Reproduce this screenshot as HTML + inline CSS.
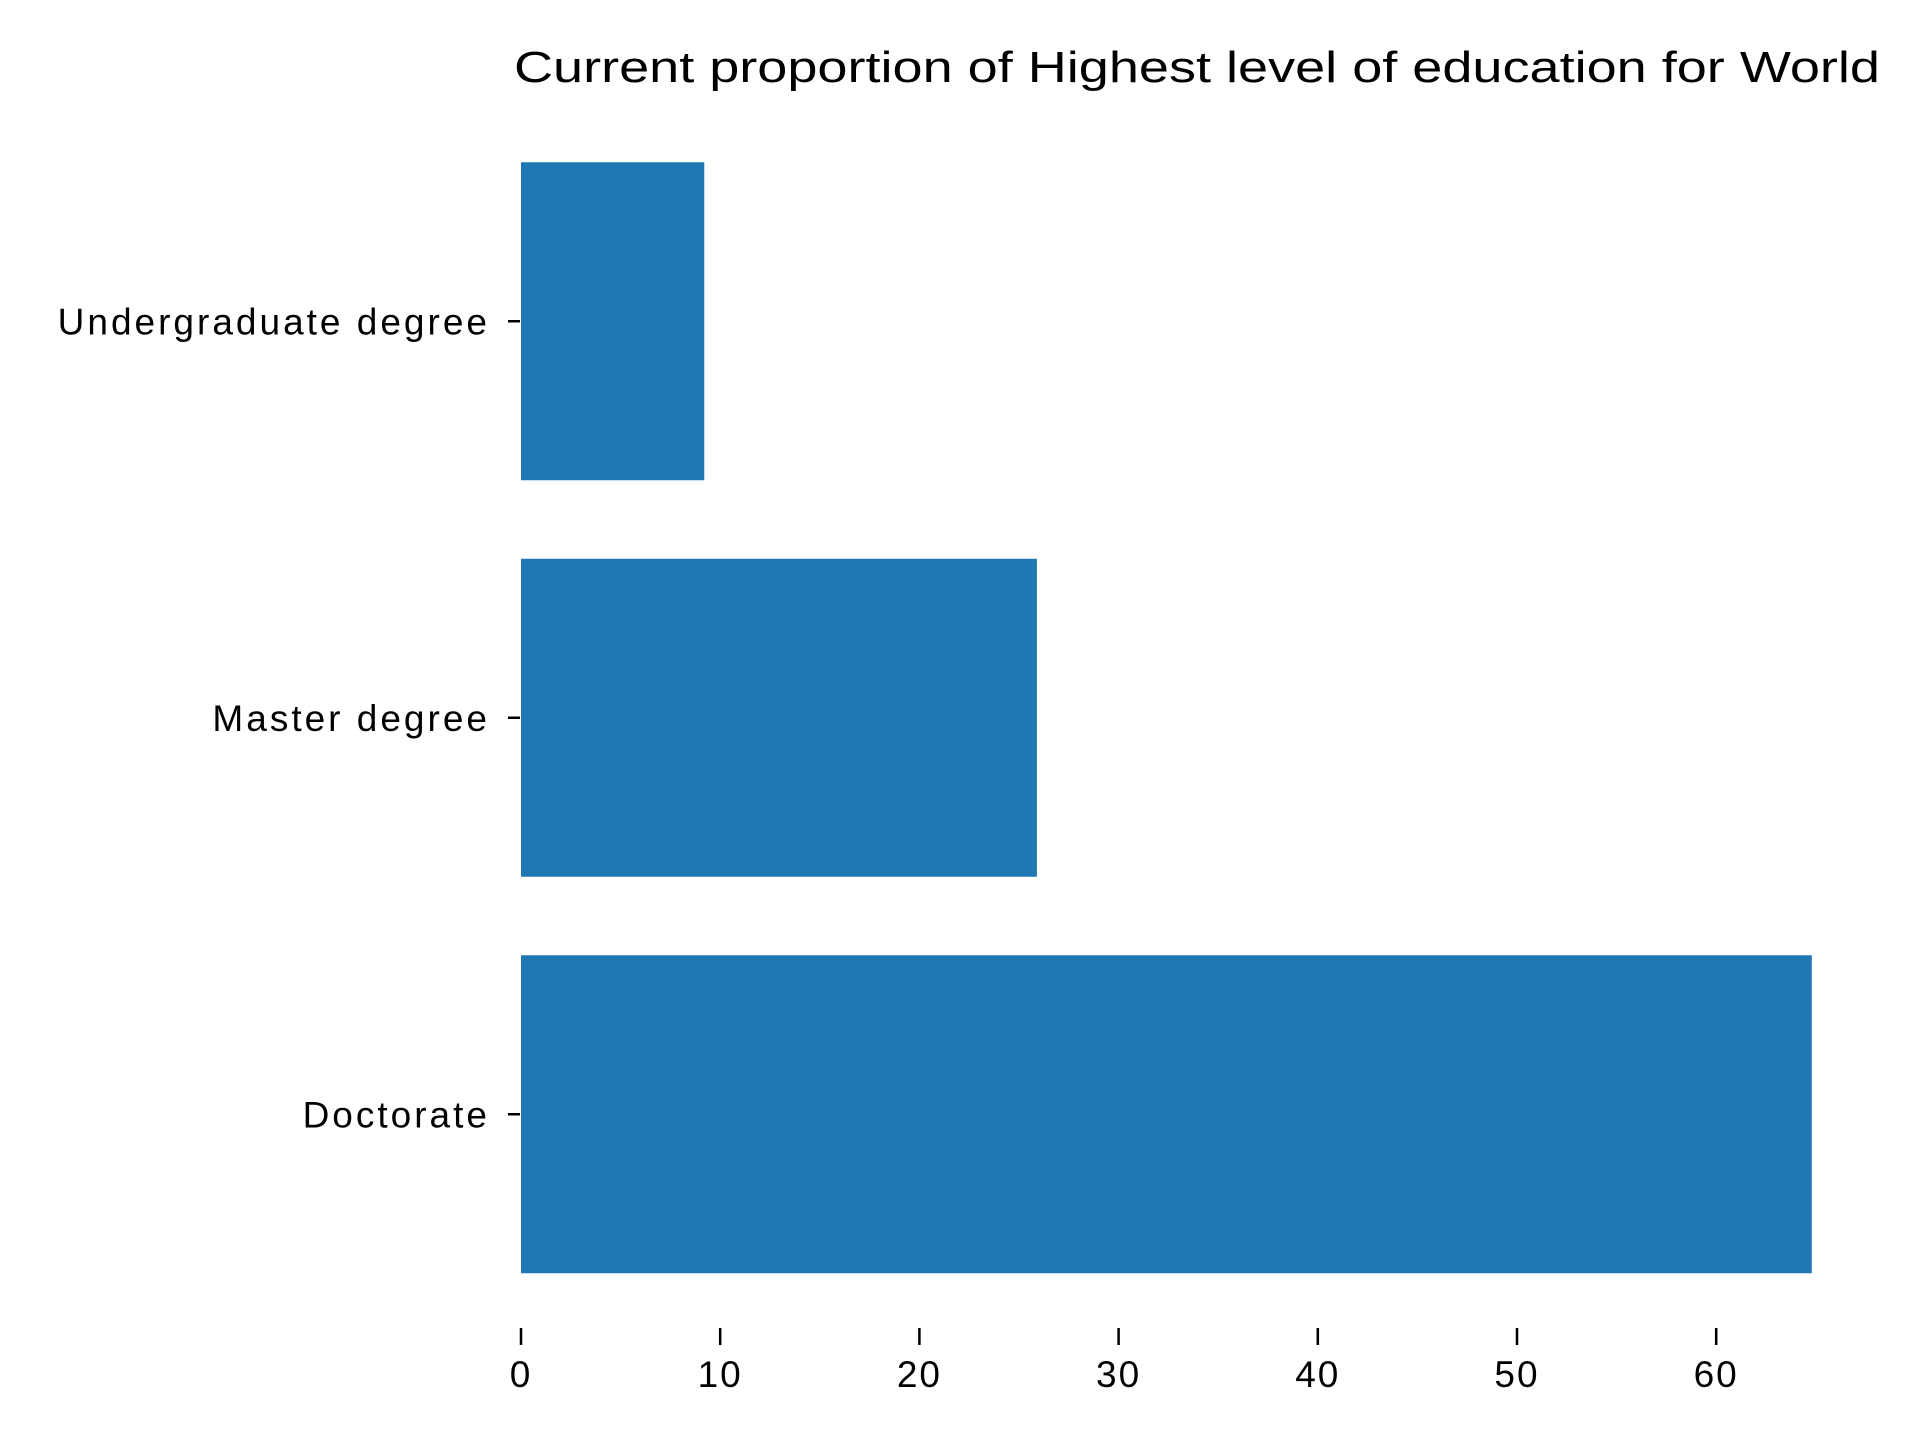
<!DOCTYPE html>
<html><head><meta charset="utf-8"><style>html,body{margin:0;padding:0;background:#fff}svg{display:block}text{font-family:"Liberation Sans",sans-serif;fill:#000}</style></head>
<body>
<svg id="chart" width="1920" height="1440" viewBox="0 0 1920 1440" xmlns="http://www.w3.org/2000/svg">
<text x="514" y="82" font-size="44" textLength="1366" lengthAdjust="spacingAndGlyphs">Current proportion of Highest level of education for World</text>
<g id="bars"></g><g id="yaxis"></g><g id="xaxis"></g>
</svg>
<script>
const categories = ["Undergraduate degree", "Master degree", "Doctorate"];
const values = [9.2, 25.9, 64.8];
const xTicks = [0, 10, 20, 30, 40, 50, 60];
const NS = "http://www.w3.org/2000/svg";
const x0 = 521, pxPerUnit = 19.92;
const xScale = v => x0 + v * pxPerUnit;
const bandTop = 123, bandStep = 396.5, barH = 318;
const yCenter = i => bandTop + bandStep * i + bandStep / 2;
const bars = document.getElementById('bars'), ya = document.getElementById('yaxis'), xa = document.getElementById('xaxis');
function mk(tag, attrs, parent) { const e = document.createElementNS(NS, tag); for (const k in attrs) e.setAttribute(k, attrs[k]); parent.appendChild(e); return e; }
categories.forEach((c, i) => {
  const cy = yCenter(i);
  const r = mk('rect', {x: xScale(0), y: cy - barH / 2, width: xScale(values[i]) - xScale(0), height: barH, fill: '#1f77b4'}, bars);
  
  
  const t = mk('line', {x1: 508, x2: 520, y1: cy, y2: cy, stroke: '#000', 'stroke-width': 2.5}, ya);
  
  
  const l = mk('text', {x: 490, y: cy + 13, 'font-size': 37, 'letter-spacing': 3, 'text-anchor': 'end'}, ya);
  l.textContent = c;
  
  
});
xTicks.forEach(v => {
  const x = xScale(v);
  const t = mk('line', {x1: x, x2: x, y1: 1328, y2: 1345, stroke: '#000', 'stroke-width': 2.5}, xa);
  
  
  const l = mk('text', {x: x, y: 1387, 'font-size': 37, 'letter-spacing': 2, 'text-anchor': 'middle'}, xa);
  l.textContent = v;
  
  
});
</script>
</body></html>
